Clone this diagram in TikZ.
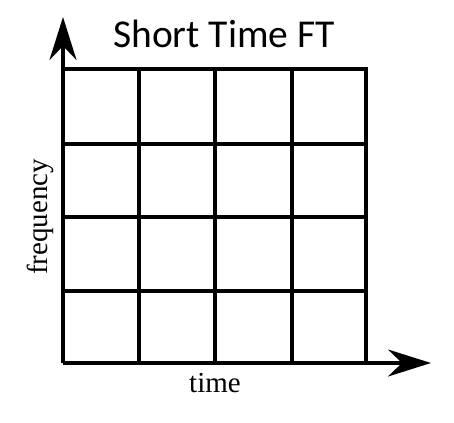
\documentclass[tikz,border=0pt]{standalone}
\usepackage{fontspec}
\setmainfont{Liberation Serif}
\newfontfamily\titlefont{Carlito}
\usetikzlibrary{arrows.meta}
\begin{document}
\begin{tikzpicture}[x=1pt,y=-1pt,
  gridline/.style={line width=3.2pt,line cap=rect},
  axisline/.style={line width=3.2pt,-{Stealth[length=43pt,width=27pt,inset=14pt]}},
  axislabel/.style={font=\fontsize{29}{29}\selectfont,inner sep=0pt}]
\useasboundingbox (0,0) rectangle (454,422);
\coordinate (o) at (63,363);
\coordinate (ytip) at (63,17);
\coordinate (xtip) at (431,363);
% grid
\foreach \x in {139,215,292,366} \draw[gridline] (\x,69) -- (\x,363);
\foreach \y in {69,144,217,291} \draw[gridline] (63,\y) -- (366,\y);
% axes
\draw[axisline] (o) -- (ytip);
\draw[axisline] (o) -- (xtip);
% labels
\node[font=\titlefont\fontsize{39.5}{39.5}\selectfont,anchor=base,inner sep=0pt] (title) at (224,48) {Short Time FT};
\node[axislabel,rotate=90,anchor=base] (freq) at (47,217) {frequency};
\node[axislabel,anchor=base] (time) at (215,392) {time};
\end{tikzpicture}
\end{document}
